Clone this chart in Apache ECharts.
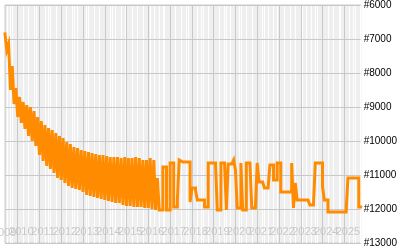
<!DOCTYPE html>
<html><head><meta charset="utf-8">
<script src="https://cdn.jsdelivr.net/npm/echarts@6/dist/echarts.min.js"></script>
<style>html,body{margin:0;padding:0;background:#fff}#c{width:400px;height:250px}</style>
</head><body><div id="c"></div>
<script>
const months = [
'2009-06','2009-07','2009-08','2009-09','2009-10','2009-11','2009-12',
'2010-01','2010-02','2010-03','2010-04','2010-05','2010-06','2010-07','2010-08','2010-09','2010-10','2010-11','2010-12',
'2011-01','2011-02','2011-03','2011-04','2011-05','2011-06','2011-07','2011-08','2011-09','2011-10','2011-11','2011-12',
'2012-01','2012-02','2012-03','2012-04','2012-05','2012-06','2012-07','2012-08','2012-09','2012-10','2012-11','2012-12',
'2013-01','2013-02','2013-03','2013-04','2013-05','2013-06','2013-07','2013-08','2013-09','2013-10','2013-11','2013-12',
'2014-01','2014-02','2014-03','2014-04','2014-05','2014-06','2014-07','2014-08','2014-09','2014-10','2014-11','2014-12',
'2015-01','2015-02','2015-03','2015-04','2015-05','2015-06','2015-07','2015-08','2015-09','2015-10','2015-11','2015-12',
'2016-01','2016-02','2016-03','2016-04','2016-05','2016-06','2016-07','2016-08','2016-09','2016-10','2016-11','2016-12',
'2017-01','2017-02','2017-03','2017-04','2017-05','2017-06','2017-07','2017-08','2017-09','2017-10','2017-11','2017-12',
'2018-01','2018-02','2018-03','2018-04','2018-05','2018-06','2018-07','2018-08','2018-09','2018-10','2018-11','2018-12',
'2019-01','2019-02','2019-03','2019-04','2019-05','2019-06','2019-07','2019-08','2019-09','2019-10','2019-11','2019-12',
'2020-01','2020-02','2020-03','2020-04','2020-05','2020-06','2020-07','2020-08','2020-09','2020-10','2020-11','2020-12',
'2021-01','2021-02','2021-03','2021-04','2021-05','2021-06','2021-07','2021-08','2021-09','2021-10','2021-11','2021-12',
'2022-01','2022-02','2022-03','2022-04','2022-05','2022-06','2022-07','2022-08','2022-09','2022-10','2022-11','2022-12',
'2023-01','2023-02','2023-03','2023-04','2023-05','2023-06','2023-07','2023-08','2023-09','2023-10','2023-11','2023-12',
'2024-01','2024-02','2024-03','2024-04','2024-05','2024-06','2024-07','2024-08','2024-09','2024-10','2024-11','2024-12',
'2025-01','2025-02','2025-03','2025-04','2025-05','2025-06','2025-07','2025-08','2025-09','2025-10'
];
const ranks = [
6850,7323,7147,8500,7794,8912,8441,
9294,8706,9470,8853,9647,8941,9853,9000,10000,9118,10147,9294,
10412,9412,10588,9529,10735,9618,10824,9676,10941,9765,11088,9853,
11147,9912,11235,10029,11324,10088,11382,10176,11412,10206,11441,10265,
11500,10294,11588,10324,11618,10353,11647,10382,11676,10412,11706,10412,
11735,10441,11765,10470,11794,10470,11824,10470,11824,10500,11882,10470,
11912,10500,11912,10500,11941,10470,11941,10500,11941,10559,11971,10559,
11971,10500,12000,10559,12029,11088,12029,12029,10765,10765,12029,12029,
10647,10647,11941,11941,11735,10559,10617,10617,10617,10617,10617,11794,
11382,11382,11441,11735,11735,11735,11735,11941,11941,10647,10647,10647,
10647,10647,12029,12029,10647,10647,10647,12029,10676,10676,10676,10559,
10853,11971,11971,10647,12029,12029,10647,10647,10647,11971,11971,11971,
10647,11206,11206,11206,11382,11382,11382,10706,10706,11147,11147,10647,
10647,11500,11500,11500,11500,11500,11500,10647,11971,11235,11735,11735,
11735,11735,11735,11735,11735,11882,11882,11882,10647,10647,10647,10647,
11353,11735,11735,12088,12088,12088,12088,12088,12088,12088,12088,12088,
12088,12088,11088,11088,11088,11088,11088,11088,11941,11941
];
const yMin = 6000, yMax = 13000, yStep = 1000;
const firstYearLabel = '2009';

const chart = echarts.init(document.getElementById('c'), null, {renderer: 'canvas'});
const isYearStart = (i, v) => typeof v === 'string' && v.slice(5) === '01';
const isEvenLabel = (i, v) => typeof v === 'string' && v.slice(5) === '03' && (+v.slice(0, 4)) % 2 === 0;
const isOddLabel = (i, v) => typeof v === 'string' && v.slice(5) === '03' && (+v.slice(0, 4)) % 2 === 1;
const labelStyle = {inside: true, formatter: (v) => v.slice(0, 4), margin: 6,
  color: '#c8c8c8', fontSize: 11, fontFamily: 'Liberation Sans'};
const hidden = {axisLine: {show: false}, axisTick: {show: false}};
chart.setOption({
  animation: false,
  grid: {left: 5, right: 35, top: 5, bottom: 7, show: true, backgroundColor: '#efefef', borderColor: '#c8c8c8', borderWidth: 1},
  xAxis: [
    Object.assign({type: 'category', data: months, boundaryGap: false, position: 'top', zlevel: 0,
     axisLabel: {show: false},
     splitLine: {show: true, interval: (i) => i % 3 === 1 || i % 7 === 3, lineStyle: {color: '#ffffff', width: 1}}}, hidden),
    Object.assign({type: 'category', data: months, boundaryGap: false, position: 'bottom', zlevel: 1,
     axisLabel: Object.assign({interval: isEvenLabel}, labelStyle),
     splitLine: {show: true, interval: isYearStart, lineStyle: {color: '#c8c8c8', width: 1}}}, hidden),
    Object.assign({type: 'category', data: months, boundaryGap: false, position: 'bottom', zlevel: 1,
     axisLabel: Object.assign({interval: isOddLabel}, labelStyle),
     splitLine: {show: false}}, hidden)
  ],
  yAxis: {type: 'value', inverse: true, min: yMin, max: yMax, interval: yStep, position: 'right', zlevel: 1,
    axisLine: {show: false}, axisTick: {show: false},
    axisLabel: {formatter: (v) => '#' + v, color: '#000', fontSize: 10, fontFamily: 'Liberation Sans', margin: 3},
    splitLine: {show: true, lineStyle: {color: '#c8c8c8', width: 1}}},
  graphic: [{type: 'text', left: -8, top: 227, zlevel: 0, z: 5,
    style: {text: firstYearLabel, fill: '#c8c8c8', font: '11px "Liberation Sans"'}}],
  series: [{type: 'line', xAxisIndex: 1, data: ranks, step: 'end', showSymbol: false, zlevel: 1, z: 3,
    lineStyle: {color: '#ff8c00', width: 3, join: 'miter', cap: 'square'}, itemStyle: {color: '#ff8c00'}}]
});
</script></body></html>
